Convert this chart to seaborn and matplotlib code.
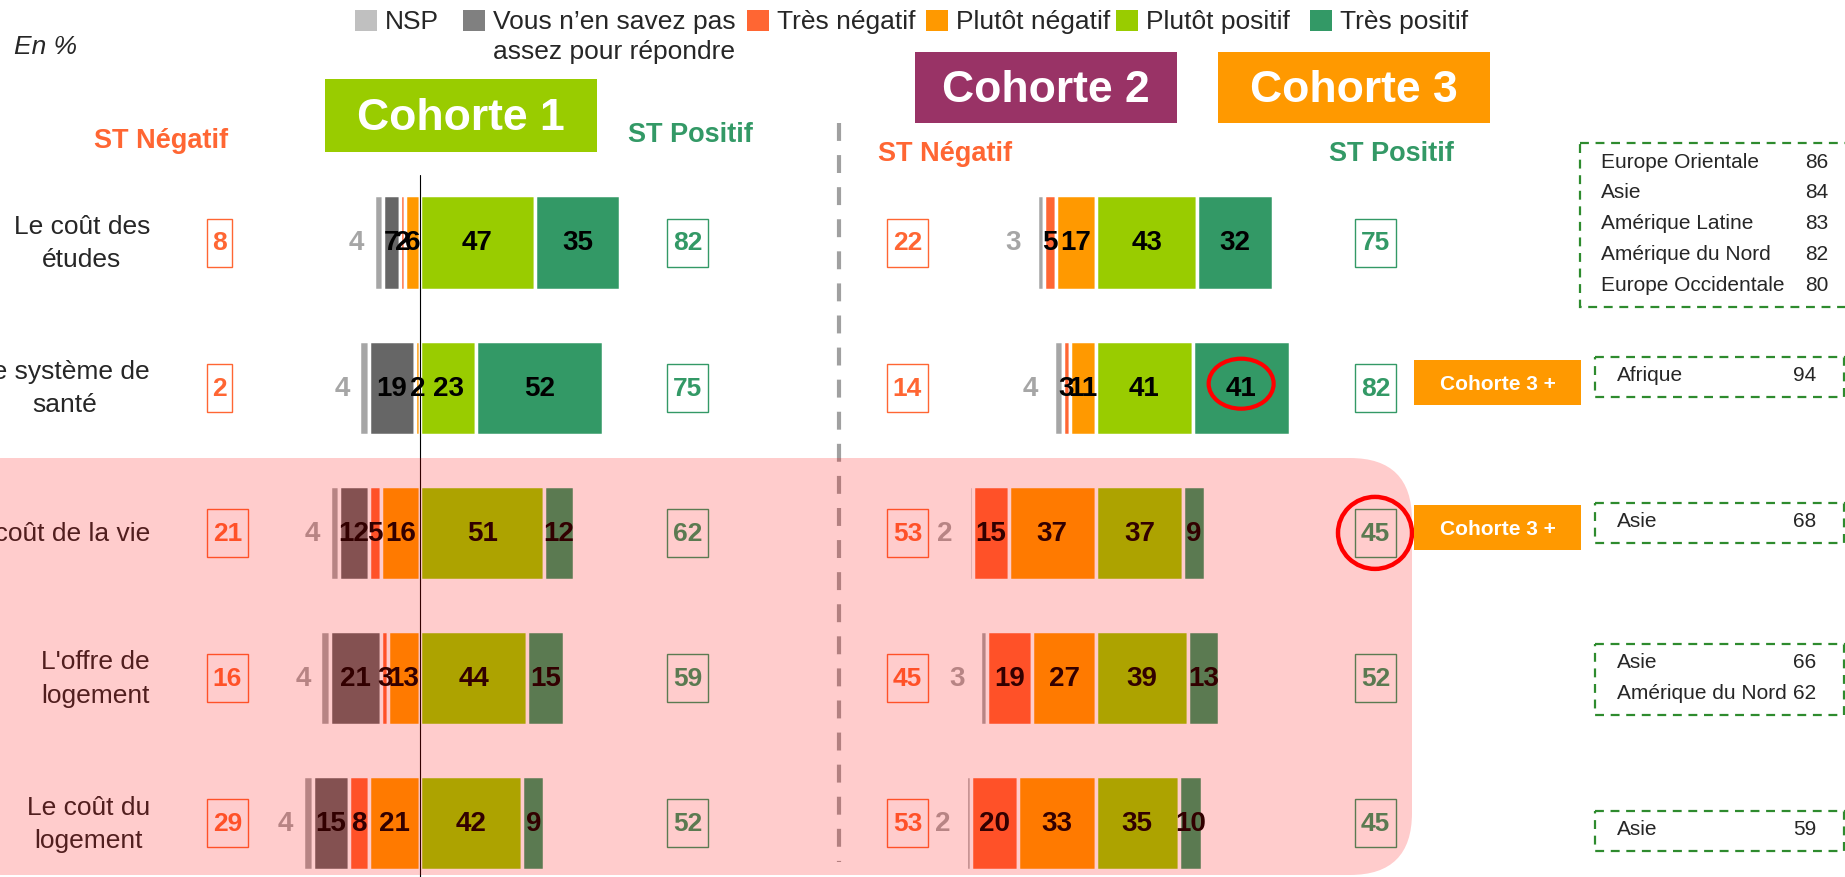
import matplotlib
matplotlib.use("Agg")
import numpy as np
import seaborn as sns
import matplotlib.pyplot as plt
from matplotlib.patches import FancyBboxPatch, Ellipse, Rectangle

sns.set_theme(style="white")
plt.rcParams["font.family"] = ["Liberation Sans", "DejaVu Sans"]

# ---------------- data ----------------
items = ["Le coût des\nétudes", "Le système de\nsanté", "Le coût de la vie",
         "L'offre de\nlogement", "Le coût du\nlogement"]
legend_labels = ["NSP", "Vous n’en savez pas", "Très négatif",
                 "Plutôt négatif", "Plutôt positif", "Très positif"]
legend_label_line2 = "assez pour répondre"

# Cohorte 1
c1_nsp = [4, 4, 4, 4, 4]
c1_vsp = [7, 19, 12, 21, 15]
c1_tres_neg = [2, 0, 5, 3, 8]
c1_plutot_neg = [6, 2, 16, 13, 21]
c1_plutot_pos = [47, 23, 51, 44, 42]
c1_tres_pos = [35, 52, 12, 15, 9]
c1_st_neg = [8, 2, 21, 16, 29]
c1_st_pos = [82, 75, 62, 59, 52]

# Cohortes 2 / 3
c2_nsp = [3, 4, 2, 3, 2]
c2_tres_neg = [5, 3, 15, 19, 20]
c2_plutot_neg = [17, 11, 37, 27, 33]
c2_plutot_pos = [43, 41, 37, 39, 35]
c2_tres_pos = [32, 41, 9, 13, 10]
c2_st_neg = [22, 14, 53, 45, 53]
c2_st_pos = [75, 82, 45, 52, 45]

c3_plus_rows = [1, 2]
region_names = [
    ["Europe Orientale", "Asie", "Amérique Latine", "Amérique du Nord", "Europe Occidentale"],
    ["Afrique"],
    ["Asie"],
    ["Asie", "Amérique du Nord"],
    ["Asie"],
]
region_values = [[86, 84, 83, 82, 80], [94], [68], [66, 62], [59]]

# ---------------- style ----------------
NSP_C, VSP_C = "#A6A6A6", "#666666"
TNEG_C, PNEG_C, PPOS_C, TPOS_C = "#FF6633", "#FF9900", "#99CC00", "#339966"
legend_colors = ["#C0C0C0", "#808080", TNEG_C, PNEG_C, PPOS_C, TPOS_C]
NEG_TXT, POS_TXT = "#FF6633", "#339966"

W, H = 1845, 878
ROW0, STEP = 243.5, 145.2
BAR_H = 0.65
LBL_FS = 20


def row_y(i):
    return ROW0 + STEP * i


fig = plt.figure(figsize=(W / 100, H / 100), dpi=100)


def make_panel(zero_px, px_per_pct):
    lo, hi = -60, 90
    left = zero_px + lo * px_per_pct
    ax = fig.add_axes([left / W, 0, (hi - lo) * px_per_pct / W, 1])
    ax.set_xlim(lo, hi)
    ax.set_ylim((H - ROW0) / STEP, -ROW0 / STEP)
    ax.axis("off")
    return ax


P1 = (420, 2.44)
P2 = (1096, 2.36)
ax1 = make_panel(*P1)
ax2 = make_panel(*P2)


def draw_stack(ax, nsp, parts, n_neg, nsp_gap):
    y = np.arange(len(items))
    nsp = np.array(nsp)
    neg_total = np.sum([p[0] for p in parts[:n_neg]], axis=0)
    start = -neg_total - nsp
    ax.barh(y, nsp, left=start, height=BAR_H, color=NSP_C, edgecolor="white", linewidth=2.5)
    for i in y:
        ax.text(start[i] - nsp_gap, i, str(nsp[i]), ha="center", va="center",
                fontsize=LBL_FS, fontweight="bold", color="#A6A6A6")
    left = start + nsp
    for vals, col in parts:
        vals = np.array(vals)
        ax.barh(y, vals, left=left, height=BAR_H, color=col, edgecolor="white", linewidth=2.5)
        for i in y:
            if vals[i] > 0:
                ax.text(left[i] + vals[i] / 2, i, str(vals[i]), ha="center", va="center",
                        fontsize=LBL_FS, fontweight="bold", color="black")
        left = left + vals


draw_stack(ax1, c1_nsp,
           [(c1_vsp, VSP_C), (c1_tres_neg, TNEG_C), (c1_plutot_neg, PNEG_C),
            (c1_plutot_pos, PPOS_C), (c1_tres_pos, TPOS_C)], 3, 7)
ax1.axvline(0, ymin=0, ymax=(H - 176) / H, color="black", lw=0.8)

draw_stack(ax2, c2_nsp,
           [(c2_tres_neg, TNEG_C), (c2_plutot_neg, PNEG_C),
            (c2_plutot_pos, PPOS_C), (c2_tres_pos, TPOS_C)], 2, 10)

# ---------------- overlay (pixel coordinates) ----------------
ov = fig.add_axes([0, 0, 1, 1])
ov.set_zorder(5)
ov.set_xlim(0, W)
ov.set_ylim(H, 0)
ov.axis("off")

ov.text(14, 47, "En %", style="italic", fontsize=19, va="center", ha="left")

# legend
sq_x = [355, 463, 747, 926, 1116, 1310]
for x, lab, col in zip(sq_x, legend_labels, legend_colors):
    ov.add_patch(Rectangle((x, 11), 22, 21, color=col, lw=0))
    ov.text(x + 30, 22, lab, fontsize=19, va="center", ha="left")
ov.text(sq_x[1] + 30, 52, legend_label_line2, fontsize=19, va="center", ha="left")

# cohort headers
for (x0, y0, x1, y1), lab, col in [((325, 80, 597, 153), "Cohorte 1", "#99CC00"),
                                   ((915, 53, 1177, 124), "Cohorte 2", "#993366"),
                                   ((1218, 53, 1490, 124), "Cohorte 3", "#FF9900")]:
    ov.add_patch(Rectangle((x0, y0), x1 - x0, y1 - y0, color=col, lw=0))
    ov.text((x0 + x1) / 2, (y0 + y1) / 2 + 2, lab, color="white", fontsize=32,
            fontweight="bold", ha="center", va="center")

for x, y, lab, col in [(161, 141, "ST Négatif", NEG_TXT), (690, 135, "ST Positif", POS_TXT),
                       (945, 154, "ST Négatif", NEG_TXT), (1391, 154, "ST Positif", POS_TXT)]:
    ov.text(x, y, lab, color=col, fontsize=19.5, fontweight="bold", ha="center", va="center")

# separator
ov.plot([839, 839], [124, 863], color="#A0A0A0", lw=3, linestyle=(0, (4.3, 3.4)))


def st_box(x, y, val, col):
    s = str(val)
    w = 9 + 16 * len(s)
    ov.add_patch(Rectangle((x, y - 24), w, 48, fill=False, ec=col, lw=1.0))
    ov.text(x + w / 2, y, s, ha="center", va="center", fontsize=19, fontweight="bold", color=col)


for i, lab in enumerate(items):
    y = row_y(i)
    ov.text(150, y, lab, ha="right", va="center", multialignment="center",
            fontsize=19, linespacing=1.5)
    st_box(207, y, c1_st_neg[i], NEG_TXT)
    st_box(667, y, c1_st_pos[i], POS_TXT)
    st_box(887, y, c2_st_neg[i], NEG_TXT)
    st_box(1355, y, c2_st_pos[i], POS_TXT)

# highlighted area (semi-transparent red over the last three rows)
ov.add_patch(FancyBboxPatch((-60, 459), 1412 + 60, 876 - 459,
                            boxstyle="round,pad=0,rounding_size=62",
                            fc=(1, 0, 0, 0.2), ec="none", zorder=10))

# red circles
x41 = P2[0] + P2[1] * (c2_plutot_pos[1] + c2_tres_pos[1] / 2)
ov.add_patch(Ellipse((x41, row_y(1) - 4), 65, 50, fill=False, ec="#FF0000", lw=3, zorder=12))
ov.add_patch(Ellipse((1375, row_y(2)), 74, 72, fill=False, ec="#FF0000", lw=3.2, zorder=12))

# "Cohorte 3 +" flags
for r in c3_plus_rows:
    yc = row_y(r) - 5
    ov.add_patch(Rectangle((1414, yc - 22.5), 167, 45, color="#FF9900", lw=0, zorder=12))
    ov.text(1414 + 83.5, yc + 1, "Cohorte 3 +", color="white", fontsize=15, fontweight="bold",
            ha="center", va="center", zorder=13)

# region boxes
box_tops = [144, 358, 504, 645, 812]
for k, (names, vals) in enumerate(zip(region_names, region_values)):
    top = box_tops[k]
    h = 31 * len(names) + 9
    x0, x1 = (1580, 1862) if k == 0 else (1595, 1844)
    ov.add_patch(Rectangle((x0, top), x1 - x0, h, fill=False, ec="#2E8B2E", lw=1.6,
                           linestyle=(0, (4, 3)), zorder=12))
    tx = 1601 if k == 0 else 1617
    vx = 1805 if k == 0 else 1793
    for j, (nm, v) in enumerate(zip(names, vals)):
        ty = top + 18 + 31 * j
        ov.text(tx, ty, nm, fontsize=15, ha="left", va="center", zorder=13)
        ov.text(vx, ty, str(v), fontsize=15, ha="left", va="center", zorder=13)

fig.savefig("out.png", dpi=100)
